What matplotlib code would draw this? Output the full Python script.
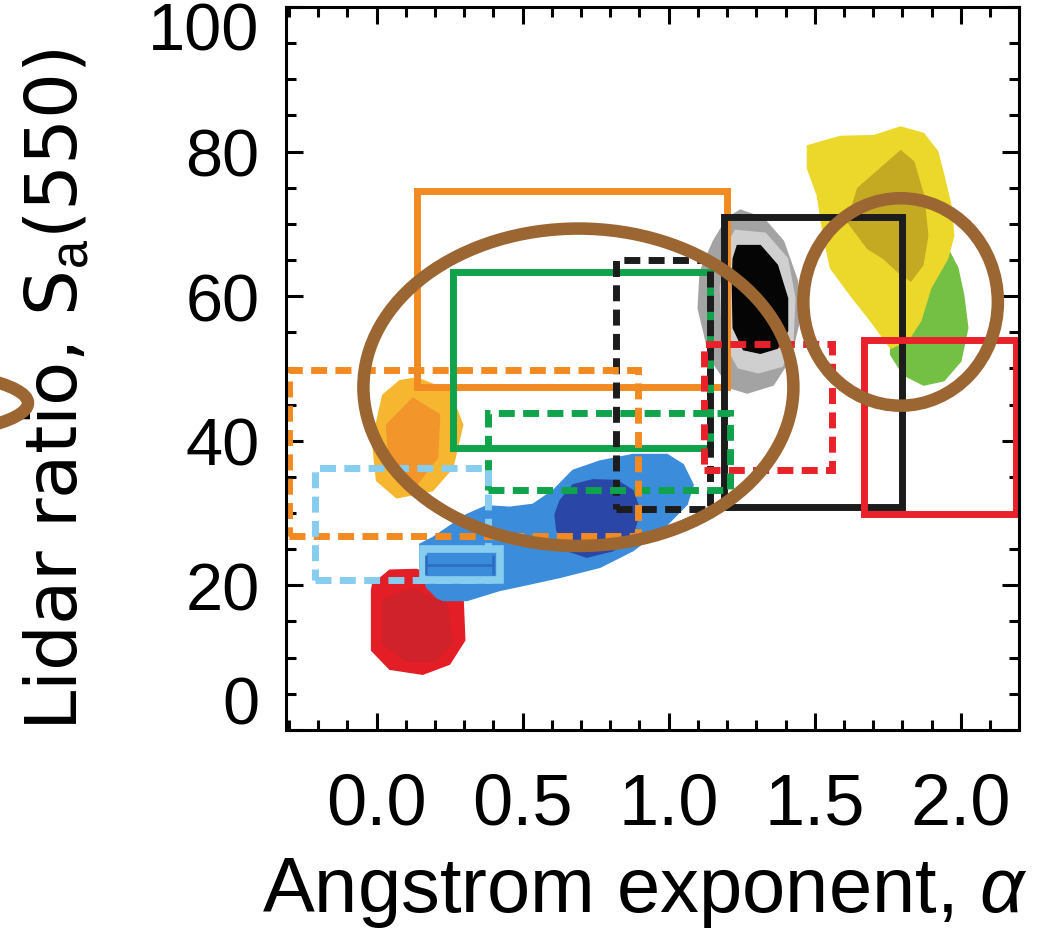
import matplotlib
matplotlib.use("Agg")
import matplotlib.pyplot as plt
import matplotlib.transforms as mtransforms
from matplotlib.patches import Rectangle, Ellipse, Polygon
from matplotlib.ticker import MultipleLocator, FixedLocator, FixedFormatter
import numpy as np

plt.rcParams['font.family'] = ['Liberation Sans', 'DejaVu Sans']
plt.rcParams['mathtext.fontset'] = 'custom'
plt.rcParams['mathtext.rm'] = 'Liberation Sans'
plt.rcParams['mathtext.it'] = 'Liberation Sans:italic'
plt.rcParams['mathtext.sf'] = 'Liberation Sans'

# ---------------- axes ----------------
x_ticks = [0.0, 0.5, 1.0, 1.5, 2.0]
x_tick_labels = ['0.0', '0.5', '1.0', '1.5', '2.0']
y_ticks = [0, 20, 40, 60, 80, 100]
y_tick_labels = ['0', '20', '40', '60', '80', '100']
x_limits = (-0.31, 2.2)
y_limits = (0, 100)
x_label = 'Angstrom exponent, $\\alpha$'
y_label = 'Lidar ratio, S$_{\\mathrm{a}}$(550)'

# ---------------- literature ranges (boxes) ----------------
box_alpha_min = [0.14, 0.26, 1.19, 1.67, 0.82, 1.12, 0.38, -0.30, -0.21]
box_alpha_max = [1.20, 1.14, 1.80, 2.19, 1.14, 1.56, 1.21, 0.895, 0.38]
box_s_min = [47.5, 39.0, 30.9, 29.8, 30.6, 36.0, 33.2, 26.8, 20.8]
box_s_max = [74.5, 63.4, 70.9, 53.9, 65.0, 53.4, 43.9, 49.8, 36.3]
box_colors = ['#f28a22', '#0fa34b', '#1c1c1c', '#e8212b', '#1c1c1c',
              '#e8212b', '#0fa34b', '#f28a22', '#86cdf0']
box_dashed = [False, False, False, False, True, True, True, True, True]

# small measured box with error bar
small_box_alpha = [0.158, 0.422]
small_box_s = [20.7, 25.0]
small_err_alpha = 0.285
small_err_halfwidth = 0.115
small_err_s = 22.8

# ---------------- density regions (filled contours) ----------------
red_outer_x = [-0.014, 0.045, 0.137, 0.206, 0.295, 0.302, 0.250, 0.158, 0.045, -0.017, -0.017]
red_outer_y = [20.1, 22.1, 22.2, 21.1, 19.3, 12.4, 9.1, 7.7, 8.4, 11.0, 19.3]
red_inner_x = [0.02, 0.12, 0.24, 0.26, 0.20, 0.10, 0.02]
red_inner_y = [18.0, 19.5, 17.5, 12.0, 9.5, 9.5, 12.0]

orange_outer_x = [0.137, 0.250, 0.295, 0.261, 0.192, 0.069, 0.0, -0.014, 0.021, 0.079]
orange_outer_y = [48.7, 46.9, 42.2, 36.3, 33.1, 32.1, 34.5, 40.0, 46.3, 48.3]
orange_inner_x = [0.124, 0.216, 0.209, 0.137, 0.045, 0.034]
orange_inner_y = [45.9, 43.6, 37.7, 33.9, 35.9, 42.2]

blue_outer_x = [0.148, 0.192, 0.309, 0.377, 0.456, 0.535, 0.604, 0.672, 0.765, 0.878,
                0.995, 1.050, 1.084, 1.063, 0.995, 0.878, 0.765, 0.628, 0.515, 0.422,
                0.309, 0.216, 0.172, 0.148]
blue_outer_y = [25.7, 26.6, 29.8, 31.0, 30.8, 31.2, 33.1, 35.9, 37.2, 38.1,
                38.1, 36.7, 33.9, 31.2, 28.4, 24.8, 22.5, 21.1, 20.1, 19.3,
                17.9, 17.9, 19.7, 22.5]
blue_inner_x = [0.628, 0.672, 0.741, 0.823, 0.878, 0.902, 0.878, 0.810, 0.720, 0.652, 0.617, 0.611]
blue_inner_y = [31.7, 33.9, 34.6, 34.5, 33.1, 30.3, 27.0, 24.8, 23.9, 24.8, 27.6, 29.8]

gray_outer_x = [1.245, 1.324, 1.393, 1.441, 1.444, 1.417, 1.358, 1.269, 1.211, 1.142,
                1.101, 1.108, 1.153, 1.201]
gray_outer_y = [71.9, 70.8, 67.6, 62.1, 56.0, 51.4, 47.7, 46.6, 47.3, 51.4,
                58.3, 63.4, 67.6, 70.8]
gray_mid_x = [1.228, 1.331, 1.407, 1.432, 1.425, 1.389, 1.307, 1.238, 1.184, 1.177, 1.194]
gray_mid_y = [69.1, 68.7, 65.2, 59.7, 53.5, 50.3, 49.4, 50.1, 54.2, 61.1, 66.6]
black_core_x = [1.235, 1.314, 1.372, 1.407, 1.407, 1.372, 1.314, 1.256, 1.221, 1.218, 1.221]
black_core_y = [67.0, 67.0, 64.3, 59.7, 55.2, 52.8, 52.1, 52.6, 55.6, 61.5, 65.2]

yellow_outer_x = [1.475, 1.588, 1.702, 1.794, 1.873, 1.921, 1.942, 1.966, 1.976, 1.955,
                  1.897, 1.863, 1.818, 1.760, 1.691, 1.623, 1.554, 1.530, 1.509, 1.475]
yellow_outer_y = [80.8, 82.1, 82.2, 83.4, 82.5, 80.0, 76.7, 72.6, 68.4, 65.2,
                  61.1, 56.6, 53.8, 52.8, 56.6, 60.1, 63.9, 68.4, 73.9, 77.7]
olive_inner_x = [1.794, 1.647, 1.612, 1.681, 1.736, 1.784, 1.829, 1.870, 1.887, 1.873, 1.839]
olive_inner_y = [80.1, 74.9, 70.3, 66.6, 65.2, 63.4, 62.1, 64.3, 68.4, 73.9, 78.6]

green_blob_x = [1.955, 1.990, 2.010, 2.024, 2.000, 1.942, 1.873, 1.804, 1.760, 1.760,
                1.852, 1.897, 1.931]
green_blob_y = [66.6, 63.9, 60.1, 55.6, 51.0, 48.3, 47.7, 49.1, 51.9, 53.8,
                56.6, 61.1, 64.3]

# ---------------- highlight ellipses ----------------
ell_center_alpha = [0.691, 1.794]
ell_center_s = [47.4, 59.2]
ell_width_alpha = [1.472, 0.666]
ell_height_s = [43.9, 28.7]
brown = '#9b6632'

# ---------------- figure ----------------
fig = plt.figure(figsize=(10.40, 9.29), dpi=100)
ax = fig.add_axes([0.275, 0.2132, 0.705, 0.7782])
ax.set_xlim(*x_limits)
ax.set_ylim(*y_limits)

def poly(xs, ys, color, z):
    ax.add_patch(Polygon(np.column_stack([xs, ys]), closed=True,
                         facecolor=color, edgecolor=color, linewidth=1.0, zorder=z))

poly(red_outer_x, red_outer_y, '#e31e26', 1)
poly(red_inner_x, red_inner_y, '#d0222a', 1.1)
poly(orange_outer_x, orange_outer_y, '#f6b630', 1)
poly(orange_inner_x, orange_inner_y, '#f2962c', 1.1)
poly(blue_outer_x, blue_outer_y, '#3b8ddb', 1)
poly(blue_inner_x, blue_inner_y, '#2a46a6', 1.1)
poly(gray_outer_x, gray_outer_y, '#a3a3a3', 1)
poly(gray_mid_x, gray_mid_y, '#cfcfcf', 1.1)
poly(black_core_x, black_core_y, '#050505', 1.2)
poly(green_blob_x, green_blob_y, '#74c045', 1)
poly(yellow_outer_x, yellow_outer_y, '#ecd82a', 1.05)
poly(olive_inner_x, olive_inner_y, '#c4aa22', 1.1)

for x0, x1, y0, y1, c, d in zip(box_alpha_min, box_alpha_max, box_s_min, box_s_max,
                                box_colors, box_dashed):
    ls = (0, (2.3, 1.2)) if d else '-'
    ax.add_patch(Rectangle((x0, y0), x1 - x0, y1 - y0, fill=False, edgecolor=c,
                           linewidth=5.0, linestyle=ls, joinstyle='miter',
                           capstyle='butt', zorder=4))

ax.add_patch(Rectangle((small_box_alpha[0], small_box_s[0]),
                       small_box_alpha[1] - small_box_alpha[0],
                       small_box_s[1] - small_box_s[0],
                       facecolor='#3a8bd9', edgecolor='#86cdf0', linewidth=5.5,
                       joinstyle='miter', zorder=5))
ax.errorbar([small_err_alpha], [small_err_s], xerr=[small_err_halfwidth],
            fmt='none', ecolor='#2c6fc2', elinewidth=2.0, capsize=7, capthick=2.0,
            zorder=5.5)

for cx, cy, w, h in zip(ell_center_alpha, ell_center_s, ell_width_alpha, ell_height_s):
    ax.add_patch(Ellipse((cx, cy), w, h, fill=False, edgecolor=brown,
                         linewidth=9.0, zorder=6))

# partial ellipse at the left edge of the figure (annotation around the label)
fig.patches.append(Ellipse((-130 / 1040, 1 - 404 / 929), 316 / 1040, 70 / 929,
                           transform=fig.transFigure, fill=False,
                           edgecolor=brown, linewidth=9.0, clip_on=False))

# ---------------- ticks / spines ----------------
ax.xaxis.set_major_locator(FixedLocator(x_ticks))
ax.xaxis.set_major_formatter(FixedFormatter(x_tick_labels))
ax.yaxis.set_major_locator(FixedLocator(y_ticks))
ax.yaxis.set_major_formatter(FixedFormatter(y_tick_labels))
ax.xaxis.set_minor_locator(MultipleLocator(0.1))
ax.yaxis.set_minor_locator(MultipleLocator(5))
ax.tick_params(which='both', direction='in', top=True, right=True,
               width=2.2, color='black')
ax.tick_params(which='major', length=12.5)
ax.tick_params(which='minor', length=7)
ax.tick_params(axis='x', which='major', labelsize=52, pad=30)
ax.tick_params(axis='y', which='major', labelsize=48, pad=19)
for sp in ax.spines.values():
    sp.set_linewidth(2.2)
    sp.set_zorder(10)

ax.set_xlabel(x_label, fontsize=56)
ax.xaxis.set_label_coords(0.49, -0.173)
ax.set_ylabel(y_label, fontsize=52, family=['DejaVu Sans'])
ax.yaxis.set_label_coords(-0.265, 0.472)

# end labels sit inside the axis range, as in the original
yticks_objs = ax.yaxis.get_major_ticks()
off_up = mtransforms.ScaledTranslation(0, 30 / 100, fig.dpi_scale_trans)
off_dn = mtransforms.ScaledTranslation(0, -19 / 100, fig.dpi_scale_trans)
yticks_objs[0].label1.set_transform(yticks_objs[0].label1.get_transform() + off_up)
yticks_objs[-1].label1.set_transform(yticks_objs[-1].label1.get_transform() + off_dn)

fig.savefig('out.png', dpi=100, facecolor='white')
